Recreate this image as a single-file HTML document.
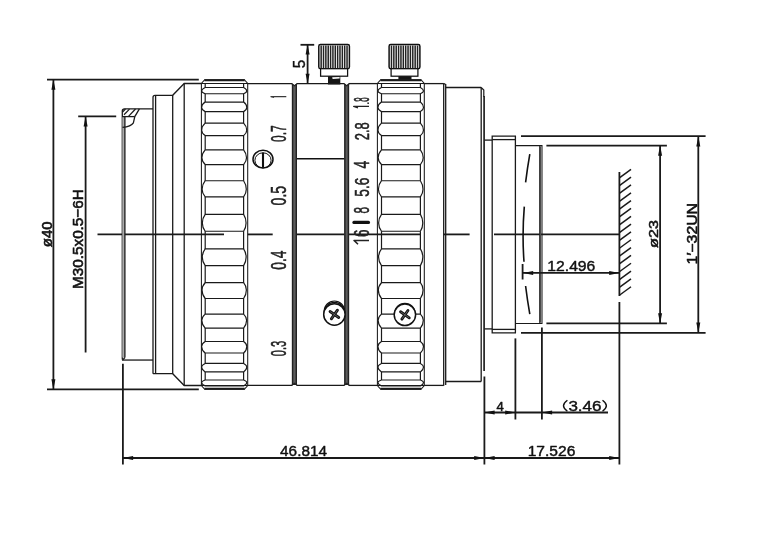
<!DOCTYPE html>
<html><head><meta charset="utf-8"><title>Lens drawing</title>
<style>
html,body{margin:0;padding:0;background:#fff;}
svg{display:block;font-family:"Liberation Sans",sans-serif;filter:grayscale(1);}
</style></head>
<body>
<svg width="760" height="547" viewBox="0 0 760 547">
<rect x="0" y="0" width="760" height="547" fill="#fff"/>
<line x1="97.50" y1="234.40" x2="224.00" y2="234.40" stroke="#1a1a1a" stroke-width="1.8" stroke-linecap="butt"/>
<line x1="247.70" y1="234.40" x2="272.70" y2="234.40" stroke="#1a1a1a" stroke-width="1.8" stroke-linecap="butt"/>
<line x1="296.00" y1="234.40" x2="420.40" y2="234.40" stroke="#1a1a1a" stroke-width="1.8" stroke-linecap="butt"/>
<line x1="443.60" y1="234.40" x2="469.60" y2="234.40" stroke="#1a1a1a" stroke-width="1.8" stroke-linecap="butt"/>
<line x1="494.00" y1="234.40" x2="619.40" y2="234.40" stroke="#1a1a1a" stroke-width="1.8" stroke-linecap="butt"/>
<line x1="47.00" y1="79.60" x2="198.80" y2="79.60" stroke="#1a1a1a" stroke-width="1.8" stroke-linecap="butt"/>
<line x1="47.00" y1="389.40" x2="198.80" y2="389.40" stroke="#1a1a1a" stroke-width="1.8" stroke-linecap="butt"/>
<line x1="53.40" y1="79.60" x2="53.40" y2="389.40" stroke="#1a1a1a" stroke-width="1.8" stroke-linecap="butt"/>
<polygon points="53.40,79.60 51.40,89.80 55.40,89.80" fill="#111"/>
<polygon points="53.40,389.40 51.40,379.20 55.40,379.20" fill="#111"/>
<line x1="78.20" y1="116.40" x2="116.20" y2="116.40" stroke="#1a1a1a" stroke-width="1.8" stroke-linecap="butt"/>
<line x1="85.60" y1="116.40" x2="85.60" y2="352.50" stroke="#1a1a1a" stroke-width="1.8" stroke-linecap="butt"/>
<polygon points="85.60,116.40 83.60,126.60 87.60,126.60" fill="#111"/>
<path d="M122.3,359.45 L122.3,111.1 Q122.3,108.95 124.5,108.95 L153,108.95" stroke="#1a1a1a" stroke-width="1.3" fill="none" stroke-linejoin="miter"/>
<rect x="122.3" y="117" width="2.6" height="240.55" fill="#aaa"/>
<line x1="124.90" y1="117.00" x2="124.90" y2="357.55" stroke="#1a1a1a" stroke-width="1.3" stroke-linecap="butt"/>
<path d="M124.9,357.55 L122.3,360.35" stroke="#1a1a1a" stroke-width="1.3" fill="none" stroke-linejoin="miter"/>
<line x1="122.30" y1="360.05" x2="153.00" y2="360.05" stroke="#1a1a1a" stroke-width="1.3" stroke-linecap="butt"/>
<line x1="122.30" y1="116.60" x2="134.80" y2="116.60" stroke="#1a1a1a" stroke-width="1.3" stroke-linecap="butt"/>
<path d="M139.4,108.95 L134.8,116.6 L133.4,122.8 Q131,126.6 122.5,127.3" stroke="#1a1a1a" stroke-width="1.3" fill="none" stroke-linejoin="miter"/>
<line x1="124.00" y1="114.70" x2="129.50" y2="109.10" stroke="#1a1a1a" stroke-width="1.25" stroke-linecap="butt"/>
<line x1="128.50" y1="116.40" x2="135.50" y2="109.00" stroke="#1a1a1a" stroke-width="1.25" stroke-linecap="butt"/>
<line x1="122.60" y1="112.00" x2="125.50" y2="109.00" stroke="#1a1a1a" stroke-width="1.1" stroke-linecap="butt"/>
<path d="M153,373.70 L153,97.4 Q153,95.3 155,95.3 L172.7,95.3 L184.2,83.5 L201.4,83.5" stroke="#1a1a1a" stroke-width="1.3" fill="none" stroke-linejoin="miter"/>
<path d="M153,373.70 L172.7,373.70 L184.2,385.50 L201.4,385.50" stroke="#1a1a1a" stroke-width="1.3" fill="none" stroke-linejoin="miter"/>
<line x1="155.60" y1="95.50" x2="155.60" y2="373.70" stroke="#1a1a1a" stroke-width="1.3" stroke-linecap="butt"/>
<line x1="172.70" y1="95.30" x2="172.70" y2="373.70" stroke="#1a1a1a" stroke-width="1.3" stroke-linecap="butt"/>
<line x1="184.20" y1="83.50" x2="184.20" y2="385.50" stroke="#1a1a1a" stroke-width="1.3" stroke-linecap="butt"/>
<path d="M201.4,385.50 L201.4,83.5 L204.70,79.7 L244.40,79.7 L247.7,83.5 L247.7,385.50 L244.40,389.30 L204.70,389.30 Z" stroke="#1a1a1a" stroke-width="1.05" fill="none" stroke-linejoin="miter"/>
<line x1="204.40" y1="80.35" x2="244.70" y2="80.35" stroke="#1a1a1a" stroke-width="2.0" stroke-linecap="butt"/>
<line x1="204.40" y1="388.65" x2="244.70" y2="388.65" stroke="#1a1a1a" stroke-width="2.0" stroke-linecap="butt"/>
<line x1="201.40" y1="83.50" x2="247.70" y2="83.50" stroke="#1a1a1a" stroke-width="1.2" stroke-linecap="butt"/>
<line x1="201.40" y1="385.50" x2="247.70" y2="385.50" stroke="#1a1a1a" stroke-width="1.2" stroke-linecap="butt"/>
<line x1="205.20" y1="83.50" x2="205.20" y2="87.52" stroke="#1a1a1a" stroke-width="1.2" stroke-linecap="butt"/>
<line x1="243.60" y1="83.50" x2="243.60" y2="87.52" stroke="#1a1a1a" stroke-width="1.2" stroke-linecap="butt"/>
<path d="M205.2,87.52 L243.6,87.52 Q246.80,89.12 246.80,91.07 Q246.80,92.54 243.6,93.75 L205.2,93.75 Q201.60,92.54 201.60,91.07 Q201.60,89.12 205.2,87.52 Z" stroke="#1a1a1a" stroke-width="1.2" fill="none" stroke-linejoin="miter"/>
<line x1="205.20" y1="93.75" x2="205.20" y2="102.03" stroke="#1a1a1a" stroke-width="1.2" stroke-linecap="butt"/>
<line x1="243.60" y1="93.75" x2="243.60" y2="102.03" stroke="#1a1a1a" stroke-width="1.2" stroke-linecap="butt"/>
<path d="M205.2,102.03 L243.6,102.03 Q246.80,104.48 246.80,107.49 Q246.80,109.75 243.6,111.61 L205.2,111.61 Q201.60,109.75 201.60,107.49 Q201.60,104.48 205.2,102.03 Z" stroke="#1a1a1a" stroke-width="1.2" fill="none" stroke-linejoin="miter"/>
<line x1="205.20" y1="111.61" x2="205.20" y2="123.15" stroke="#1a1a1a" stroke-width="1.2" stroke-linecap="butt"/>
<line x1="243.60" y1="111.61" x2="243.60" y2="123.15" stroke="#1a1a1a" stroke-width="1.2" stroke-linecap="butt"/>
<path d="M205.2,123.15 L243.6,123.15 Q246.76,126.33 246.76,130.21 Q246.76,133.18 243.6,135.61 L205.2,135.61 Q201.64,133.18 201.64,130.21 Q201.64,126.33 205.2,123.15 Z" stroke="#1a1a1a" stroke-width="1.2" fill="none" stroke-linejoin="miter"/>
<line x1="205.20" y1="135.61" x2="205.20" y2="149.84" stroke="#1a1a1a" stroke-width="1.2" stroke-linecap="butt"/>
<line x1="243.60" y1="135.61" x2="243.60" y2="149.84" stroke="#1a1a1a" stroke-width="1.2" stroke-linecap="butt"/>
<path d="M205.2,149.84 L243.6,149.84 Q246.53,153.45 246.53,157.87 Q246.53,161.54 243.6,164.55 L205.2,164.55 Q201.87,161.54 201.87,157.87 Q201.87,153.45 205.2,149.84 Z" stroke="#1a1a1a" stroke-width="1.2" fill="none" stroke-linejoin="miter"/>
<line x1="205.20" y1="164.55" x2="205.20" y2="180.74" stroke="#1a1a1a" stroke-width="1.2" stroke-linecap="butt"/>
<line x1="243.60" y1="164.55" x2="243.60" y2="180.74" stroke="#1a1a1a" stroke-width="1.2" stroke-linecap="butt"/>
<path d="M205.2,180.74 L243.6,180.74 Q246.30,184.59 246.30,189.29 Q246.30,193.51 243.6,196.97 L205.2,196.97 Q202.10,193.51 202.10,189.29 Q202.10,184.59 205.2,180.74 Z" stroke="#1a1a1a" stroke-width="1.2" fill="none" stroke-linejoin="miter"/>
<line x1="205.20" y1="196.97" x2="205.20" y2="214.32" stroke="#1a1a1a" stroke-width="1.2" stroke-linecap="butt"/>
<line x1="243.60" y1="196.97" x2="243.60" y2="214.32" stroke="#1a1a1a" stroke-width="1.2" stroke-linecap="butt"/>
<path d="M205.2,214.32 L243.6,214.32 Q246.07,218.18 246.07,222.90 Q246.07,227.49 243.6,231.25 L205.2,231.25 Q202.33,227.49 202.33,222.90 Q202.33,218.18 205.2,214.32 Z" stroke="#1a1a1a" stroke-width="1.2" fill="none" stroke-linejoin="miter"/>
<line x1="205.20" y1="231.25" x2="205.20" y2="248.89" stroke="#1a1a1a" stroke-width="1.2" stroke-linecap="butt"/>
<line x1="243.60" y1="231.25" x2="243.60" y2="248.89" stroke="#1a1a1a" stroke-width="1.2" stroke-linecap="butt"/>
<path d="M205.2,248.89 L243.6,248.89 Q246.15,252.57 246.15,257.06 Q246.15,261.79 243.6,265.67 L205.2,265.67 Q202.25,261.79 202.25,257.06 Q202.25,252.57 205.2,248.89 Z" stroke="#1a1a1a" stroke-width="1.2" fill="none" stroke-linejoin="miter"/>
<line x1="205.20" y1="265.67" x2="205.20" y2="282.72" stroke="#1a1a1a" stroke-width="1.2" stroke-linecap="butt"/>
<line x1="243.60" y1="265.67" x2="243.60" y2="282.72" stroke="#1a1a1a" stroke-width="1.2" stroke-linecap="butt"/>
<path d="M205.2,282.72 L243.6,282.72 Q246.38,286.03 246.38,290.08 Q246.38,294.72 243.6,298.51 L205.2,298.51 Q202.02,294.72 202.02,290.08 Q202.02,286.03 205.2,282.72 Z" stroke="#1a1a1a" stroke-width="1.2" fill="none" stroke-linejoin="miter"/>
<line x1="205.20" y1="298.51" x2="205.20" y2="314.10" stroke="#1a1a1a" stroke-width="1.2" stroke-linecap="butt"/>
<line x1="243.60" y1="298.51" x2="243.60" y2="314.10" stroke="#1a1a1a" stroke-width="1.2" stroke-linecap="butt"/>
<path d="M205.2,314.10 L243.6,314.10 Q246.61,316.92 246.61,320.36 Q246.61,324.62 243.6,328.11 L205.2,328.11 Q201.79,324.62 201.79,320.36 Q201.79,316.92 205.2,314.10 Z" stroke="#1a1a1a" stroke-width="1.2" fill="none" stroke-linejoin="miter"/>
<line x1="205.20" y1="328.11" x2="205.20" y2="341.48" stroke="#1a1a1a" stroke-width="1.2" stroke-linecap="butt"/>
<line x1="243.60" y1="328.11" x2="243.60" y2="341.48" stroke="#1a1a1a" stroke-width="1.2" stroke-linecap="butt"/>
<path d="M205.2,341.48 L243.6,341.48 Q246.80,343.71 246.80,346.43 Q246.80,350.04 243.6,353.00 L205.2,353.00 Q201.60,350.04 201.60,346.43 Q201.60,343.71 205.2,341.48 Z" stroke="#1a1a1a" stroke-width="1.2" fill="none" stroke-linejoin="miter"/>
<line x1="205.20" y1="353.00" x2="205.20" y2="363.46" stroke="#1a1a1a" stroke-width="1.2" stroke-linecap="butt"/>
<line x1="243.60" y1="353.00" x2="243.60" y2="363.46" stroke="#1a1a1a" stroke-width="1.2" stroke-linecap="butt"/>
<path d="M205.2,363.46 L243.6,363.46 Q246.80,365.10 246.80,367.10 Q246.80,369.75 243.6,371.92 L205.2,371.92 Q201.60,369.75 201.60,367.10 Q201.60,365.10 205.2,363.46 Z" stroke="#1a1a1a" stroke-width="1.2" fill="none" stroke-linejoin="miter"/>
<line x1="205.20" y1="371.92" x2="205.20" y2="380.00" stroke="#1a1a1a" stroke-width="1.2" stroke-linecap="butt"/>
<line x1="243.60" y1="371.92" x2="243.60" y2="380.00" stroke="#1a1a1a" stroke-width="1.2" stroke-linecap="butt"/>
<path d="M205.2,380.00 L243.6,380.00 Q246.80,381.14 246.80,382.54 Q246.80,384.39 243.6,385.90 L205.2,385.90 Q201.60,384.39 201.60,382.54 Q201.60,381.14 205.2,380.00 Z" stroke="#1a1a1a" stroke-width="1.2" fill="none" stroke-linejoin="miter"/>
<line x1="205.20" y1="385.90" x2="205.20" y2="385.50" stroke="#1a1a1a" stroke-width="1.2" stroke-linecap="butt"/>
<line x1="243.60" y1="385.90" x2="243.60" y2="385.50" stroke="#1a1a1a" stroke-width="1.2" stroke-linecap="butt"/>
<path d="M377.4,385.50 L377.4,83.5 L380.70,79.7 L421.00,79.7 L424.3,83.5 L424.3,385.50 L421.00,389.30 L380.70,389.30 Z" stroke="#1a1a1a" stroke-width="1.05" fill="none" stroke-linejoin="miter"/>
<line x1="380.40" y1="80.35" x2="421.30" y2="80.35" stroke="#1a1a1a" stroke-width="2.0" stroke-linecap="butt"/>
<line x1="380.40" y1="388.65" x2="421.30" y2="388.65" stroke="#1a1a1a" stroke-width="2.0" stroke-linecap="butt"/>
<line x1="377.40" y1="83.50" x2="424.30" y2="83.50" stroke="#1a1a1a" stroke-width="1.2" stroke-linecap="butt"/>
<line x1="377.40" y1="385.50" x2="424.30" y2="385.50" stroke="#1a1a1a" stroke-width="1.2" stroke-linecap="butt"/>
<line x1="381.50" y1="83.50" x2="381.50" y2="87.52" stroke="#1a1a1a" stroke-width="1.2" stroke-linecap="butt"/>
<line x1="420.40" y1="83.50" x2="420.40" y2="87.52" stroke="#1a1a1a" stroke-width="1.2" stroke-linecap="butt"/>
<path d="M381.5,87.52 L420.4,87.52 Q423.50,89.12 423.50,91.07 Q423.50,92.54 420.4,93.75 L381.5,93.75 Q377.90,92.54 377.90,91.07 Q377.90,89.12 381.5,87.52 Z" stroke="#1a1a1a" stroke-width="1.2" fill="none" stroke-linejoin="miter"/>
<line x1="381.50" y1="93.75" x2="381.50" y2="102.03" stroke="#1a1a1a" stroke-width="1.2" stroke-linecap="butt"/>
<line x1="420.40" y1="93.75" x2="420.40" y2="102.03" stroke="#1a1a1a" stroke-width="1.2" stroke-linecap="butt"/>
<path d="M381.5,102.03 L420.4,102.03 Q423.50,104.48 423.50,107.49 Q423.50,109.75 420.4,111.61 L381.5,111.61 Q377.90,109.75 377.90,107.49 Q377.90,104.48 381.5,102.03 Z" stroke="#1a1a1a" stroke-width="1.2" fill="none" stroke-linejoin="miter"/>
<line x1="381.50" y1="111.61" x2="381.50" y2="123.15" stroke="#1a1a1a" stroke-width="1.2" stroke-linecap="butt"/>
<line x1="420.40" y1="111.61" x2="420.40" y2="123.15" stroke="#1a1a1a" stroke-width="1.2" stroke-linecap="butt"/>
<path d="M381.5,123.15 L420.4,123.15 Q423.46,126.33 423.46,130.21 Q423.46,133.18 420.4,135.61 L381.5,135.61 Q377.94,133.18 377.94,130.21 Q377.94,126.33 381.5,123.15 Z" stroke="#1a1a1a" stroke-width="1.2" fill="none" stroke-linejoin="miter"/>
<line x1="381.50" y1="135.61" x2="381.50" y2="149.84" stroke="#1a1a1a" stroke-width="1.2" stroke-linecap="butt"/>
<line x1="420.40" y1="135.61" x2="420.40" y2="149.84" stroke="#1a1a1a" stroke-width="1.2" stroke-linecap="butt"/>
<path d="M381.5,149.84 L420.4,149.84 Q423.23,153.45 423.23,157.87 Q423.23,161.54 420.4,164.55 L381.5,164.55 Q378.17,161.54 378.17,157.87 Q378.17,153.45 381.5,149.84 Z" stroke="#1a1a1a" stroke-width="1.2" fill="none" stroke-linejoin="miter"/>
<line x1="381.50" y1="164.55" x2="381.50" y2="180.74" stroke="#1a1a1a" stroke-width="1.2" stroke-linecap="butt"/>
<line x1="420.40" y1="164.55" x2="420.40" y2="180.74" stroke="#1a1a1a" stroke-width="1.2" stroke-linecap="butt"/>
<path d="M381.5,180.74 L420.4,180.74 Q423.00,184.59 423.00,189.29 Q423.00,193.51 420.4,196.97 L381.5,196.97 Q378.40,193.51 378.40,189.29 Q378.40,184.59 381.5,180.74 Z" stroke="#1a1a1a" stroke-width="1.2" fill="none" stroke-linejoin="miter"/>
<line x1="381.50" y1="196.97" x2="381.50" y2="214.32" stroke="#1a1a1a" stroke-width="1.2" stroke-linecap="butt"/>
<line x1="420.40" y1="196.97" x2="420.40" y2="214.32" stroke="#1a1a1a" stroke-width="1.2" stroke-linecap="butt"/>
<path d="M381.5,214.32 L420.4,214.32 Q422.77,218.18 422.77,222.90 Q422.77,227.49 420.4,231.25 L381.5,231.25 Q378.63,227.49 378.63,222.90 Q378.63,218.18 381.5,214.32 Z" stroke="#1a1a1a" stroke-width="1.2" fill="none" stroke-linejoin="miter"/>
<line x1="381.50" y1="231.25" x2="381.50" y2="248.89" stroke="#1a1a1a" stroke-width="1.2" stroke-linecap="butt"/>
<line x1="420.40" y1="231.25" x2="420.40" y2="248.89" stroke="#1a1a1a" stroke-width="1.2" stroke-linecap="butt"/>
<path d="M381.5,248.89 L420.4,248.89 Q422.85,252.57 422.85,257.06 Q422.85,261.79 420.4,265.67 L381.5,265.67 Q378.55,261.79 378.55,257.06 Q378.55,252.57 381.5,248.89 Z" stroke="#1a1a1a" stroke-width="1.2" fill="none" stroke-linejoin="miter"/>
<line x1="381.50" y1="265.67" x2="381.50" y2="282.72" stroke="#1a1a1a" stroke-width="1.2" stroke-linecap="butt"/>
<line x1="420.40" y1="265.67" x2="420.40" y2="282.72" stroke="#1a1a1a" stroke-width="1.2" stroke-linecap="butt"/>
<path d="M381.5,282.72 L420.4,282.72 Q423.08,286.03 423.08,290.08 Q423.08,294.72 420.4,298.51 L381.5,298.51 Q378.32,294.72 378.32,290.08 Q378.32,286.03 381.5,282.72 Z" stroke="#1a1a1a" stroke-width="1.2" fill="none" stroke-linejoin="miter"/>
<line x1="381.50" y1="298.51" x2="381.50" y2="314.10" stroke="#1a1a1a" stroke-width="1.2" stroke-linecap="butt"/>
<line x1="420.40" y1="298.51" x2="420.40" y2="314.10" stroke="#1a1a1a" stroke-width="1.2" stroke-linecap="butt"/>
<path d="M381.5,314.10 L420.4,314.10 Q423.31,316.92 423.31,320.36 Q423.31,324.62 420.4,328.11 L381.5,328.11 Q378.09,324.62 378.09,320.36 Q378.09,316.92 381.5,314.10 Z" stroke="#1a1a1a" stroke-width="1.2" fill="none" stroke-linejoin="miter"/>
<line x1="381.50" y1="328.11" x2="381.50" y2="341.48" stroke="#1a1a1a" stroke-width="1.2" stroke-linecap="butt"/>
<line x1="420.40" y1="328.11" x2="420.40" y2="341.48" stroke="#1a1a1a" stroke-width="1.2" stroke-linecap="butt"/>
<path d="M381.5,341.48 L420.4,341.48 Q423.50,343.71 423.50,346.43 Q423.50,350.04 420.4,353.00 L381.5,353.00 Q377.90,350.04 377.90,346.43 Q377.90,343.71 381.5,341.48 Z" stroke="#1a1a1a" stroke-width="1.2" fill="none" stroke-linejoin="miter"/>
<line x1="381.50" y1="353.00" x2="381.50" y2="363.46" stroke="#1a1a1a" stroke-width="1.2" stroke-linecap="butt"/>
<line x1="420.40" y1="353.00" x2="420.40" y2="363.46" stroke="#1a1a1a" stroke-width="1.2" stroke-linecap="butt"/>
<path d="M381.5,363.46 L420.4,363.46 Q423.50,365.10 423.50,367.10 Q423.50,369.75 420.4,371.92 L381.5,371.92 Q377.90,369.75 377.90,367.10 Q377.90,365.10 381.5,363.46 Z" stroke="#1a1a1a" stroke-width="1.2" fill="none" stroke-linejoin="miter"/>
<line x1="381.50" y1="371.92" x2="381.50" y2="380.00" stroke="#1a1a1a" stroke-width="1.2" stroke-linecap="butt"/>
<line x1="420.40" y1="371.92" x2="420.40" y2="380.00" stroke="#1a1a1a" stroke-width="1.2" stroke-linecap="butt"/>
<path d="M381.5,380.00 L420.4,380.00 Q423.50,381.14 423.50,382.54 Q423.50,384.39 420.4,385.90 L381.5,385.90 Q377.90,384.39 377.90,382.54 Q377.90,381.14 381.5,380.00 Z" stroke="#1a1a1a" stroke-width="1.2" fill="none" stroke-linejoin="miter"/>
<line x1="381.50" y1="385.90" x2="381.50" y2="385.50" stroke="#1a1a1a" stroke-width="1.2" stroke-linecap="butt"/>
<line x1="420.40" y1="385.90" x2="420.40" y2="385.50" stroke="#1a1a1a" stroke-width="1.2" stroke-linecap="butt"/>
<line x1="247.70" y1="83.60" x2="292.00" y2="83.60" stroke="#1a1a1a" stroke-width="1.3" stroke-linecap="butt"/>
<line x1="247.70" y1="385.40" x2="292.00" y2="385.40" stroke="#1a1a1a" stroke-width="1.3" stroke-linecap="butt"/>
<line x1="296.90" y1="83.60" x2="344.30" y2="83.60" stroke="#1a1a1a" stroke-width="1.3" stroke-linecap="butt"/>
<line x1="296.90" y1="385.40" x2="344.30" y2="385.40" stroke="#1a1a1a" stroke-width="1.3" stroke-linecap="butt"/>
<line x1="349.00" y1="83.60" x2="377.40" y2="83.60" stroke="#1a1a1a" stroke-width="1.3" stroke-linecap="butt"/>
<line x1="349.00" y1="385.40" x2="377.40" y2="385.40" stroke="#1a1a1a" stroke-width="1.3" stroke-linecap="butt"/>
<line x1="424.30" y1="83.60" x2="443.70" y2="83.60" stroke="#1a1a1a" stroke-width="1.3" stroke-linecap="butt"/>
<line x1="424.30" y1="385.40" x2="443.70" y2="385.40" stroke="#1a1a1a" stroke-width="1.3" stroke-linecap="butt"/>
<rect x="291.9" y="83.6" width="5.10" height="301.80" fill="#5c5c5c"/>
<line x1="292.60" y1="83.60" x2="292.60" y2="385.40" stroke="#222" stroke-width="1.4" stroke-linecap="butt"/>
<line x1="296.30" y1="83.60" x2="296.30" y2="385.40" stroke="#222" stroke-width="1.4" stroke-linecap="butt"/>
<polygon points="292.2,82.9 296.7,82.9 294.45,85.4" fill="#fff"/>
<path d="M291.7,83.6 L294.45,85.8 L297.2,83.6" stroke="#222" stroke-width="1.2" fill="none" stroke-linejoin="miter"/>
<polygon points="292.2,386.10 296.7,386.10 294.45,383.60" fill="#fff"/>
<path d="M291.7,385.40 L294.45,383.20 L297.2,385.40" stroke="#222" stroke-width="1.2" fill="none" stroke-linejoin="miter"/>
<rect x="344.2" y="83.6" width="4.90" height="301.80" fill="#5c5c5c"/>
<line x1="344.90" y1="83.60" x2="344.90" y2="385.40" stroke="#222" stroke-width="1.4" stroke-linecap="butt"/>
<line x1="348.40" y1="83.60" x2="348.40" y2="385.40" stroke="#222" stroke-width="1.4" stroke-linecap="butt"/>
<polygon points="344.5,82.9 348.8,82.9 346.65,85.4" fill="#fff"/>
<path d="M344.0,83.6 L346.65,85.8 L349.3,83.6" stroke="#222" stroke-width="1.2" fill="none" stroke-linejoin="miter"/>
<polygon points="344.5,386.10 348.8,386.10 346.65,383.60" fill="#fff"/>
<path d="M344.0,385.40 L346.65,383.20 L349.3,385.40" stroke="#222" stroke-width="1.2" fill="none" stroke-linejoin="miter"/>
<line x1="297.00" y1="158.70" x2="344.20" y2="158.70" stroke="#111" stroke-width="1.6" stroke-linecap="butt"/>
<line x1="443.70" y1="83.30" x2="443.70" y2="385.70" stroke="#1a1a1a" stroke-width="1.3" stroke-linecap="butt"/>
<line x1="445.70" y1="84.00" x2="445.70" y2="385.00" stroke="#1a1a1a" stroke-width="1.3" stroke-linecap="butt"/>
<path d="M443.7,83.5 L445.7,84.5" stroke="#1a1a1a" stroke-width="1.3" fill="none" stroke-linejoin="miter"/>
<line x1="445.70" y1="87.50" x2="481.20" y2="87.50" stroke="#1a1a1a" stroke-width="1.3" stroke-linecap="butt"/>
<line x1="445.70" y1="381.50" x2="481.20" y2="381.50" stroke="#1a1a1a" stroke-width="1.3" stroke-linecap="butt"/>
<line x1="481.20" y1="87.50" x2="481.20" y2="381.50" stroke="#1a1a1a" stroke-width="1.3" stroke-linecap="butt"/>
<path d="M481.2,87.5 L483.8,90 L483.8,97" stroke="#1a1a1a" stroke-width="1.2" fill="none" stroke-linejoin="miter"/>
<line x1="484.10" y1="96.00" x2="484.10" y2="371.00" stroke="#222" stroke-width="1.7" stroke-linecap="butt"/>
<line x1="484.40" y1="140.10" x2="492.20" y2="140.10" stroke="#1a1a1a" stroke-width="1.3" stroke-linecap="butt"/>
<line x1="484.40" y1="328.90" x2="492.20" y2="328.90" stroke="#1a1a1a" stroke-width="1.3" stroke-linecap="butt"/>
<path d="M492.2,136.2 L515.4,136.2 L515.4,332.80 L492.2,332.80 Z" stroke="#1a1a1a" stroke-width="1.3" fill="none" stroke-linejoin="miter"/>
<line x1="492.20" y1="139.60" x2="515.40" y2="139.60" stroke="#1a1a1a" stroke-width="1.3" stroke-linecap="butt"/>
<line x1="492.20" y1="329.40" x2="515.40" y2="329.40" stroke="#1a1a1a" stroke-width="1.3" stroke-linecap="butt"/>
<path d="M515.4,145.6 L542.0,145.6 L542.0,323.40 L515.4,323.40" stroke="#1a1a1a" stroke-width="1.05" fill="none" stroke-linejoin="miter"/>
<line x1="540.30" y1="146.30" x2="540.30" y2="322.70" stroke="#555" stroke-width="1.6" stroke-linecap="butt"/>
<line x1="539.70" y1="146.00" x2="539.70" y2="323.00" stroke="#1a1a1a" stroke-width="0.9" stroke-linecap="butt"/>
<path d="M529.8,154.2 Q527.4,168 525.6,182.4" stroke="#111" stroke-width="1.6" fill="none" stroke-linejoin="miter"/>
<path d="M524.3,206.6 Q522.0,234.5 524.0,261.8" stroke="#111" stroke-width="1.6" fill="none" stroke-linejoin="miter"/>
<path d="M525.6,286 Q527.4,300.4 529.8,314.2" stroke="#111" stroke-width="1.6" fill="none" stroke-linejoin="miter"/>
<rect x="318.8" y="44.6" width="30.60" height="24.1" rx="1.6" fill="#fff" stroke="#111" stroke-width="1.5"/>
<line x1="321.15" y1="45.50" x2="321.15" y2="68.00" stroke="#222" stroke-width="1.5" stroke-linecap="butt"/>
<line x1="323.51" y1="45.50" x2="323.51" y2="68.00" stroke="#222" stroke-width="1.5" stroke-linecap="butt"/>
<line x1="325.86" y1="45.50" x2="325.86" y2="68.00" stroke="#222" stroke-width="1.5" stroke-linecap="butt"/>
<line x1="328.22" y1="45.50" x2="328.22" y2="68.00" stroke="#222" stroke-width="1.5" stroke-linecap="butt"/>
<line x1="330.57" y1="45.50" x2="330.57" y2="68.00" stroke="#222" stroke-width="1.5" stroke-linecap="butt"/>
<line x1="332.92" y1="45.50" x2="332.92" y2="68.00" stroke="#222" stroke-width="1.5" stroke-linecap="butt"/>
<line x1="335.28" y1="45.50" x2="335.28" y2="68.00" stroke="#222" stroke-width="1.5" stroke-linecap="butt"/>
<line x1="337.63" y1="45.50" x2="337.63" y2="68.00" stroke="#222" stroke-width="1.5" stroke-linecap="butt"/>
<line x1="339.98" y1="45.50" x2="339.98" y2="68.00" stroke="#222" stroke-width="1.5" stroke-linecap="butt"/>
<line x1="342.34" y1="45.50" x2="342.34" y2="68.00" stroke="#222" stroke-width="1.5" stroke-linecap="butt"/>
<line x1="344.69" y1="45.50" x2="344.69" y2="68.00" stroke="#222" stroke-width="1.5" stroke-linecap="butt"/>
<line x1="347.05" y1="45.50" x2="347.05" y2="68.00" stroke="#222" stroke-width="1.5" stroke-linecap="butt"/>
<rect x="320.6" y="68.7" width="27.00" height="7.5" fill="#fff" stroke="#111" stroke-width="1.25"/>
<rect x="328.0" y="76.2" width="12.30" height="7.80" fill="#151515"/>
<rect x="389.1" y="44.6" width="30.80" height="24.1" rx="1.6" fill="#fff" stroke="#111" stroke-width="1.5"/>
<line x1="391.47" y1="45.50" x2="391.47" y2="68.00" stroke="#222" stroke-width="1.5" stroke-linecap="butt"/>
<line x1="393.84" y1="45.50" x2="393.84" y2="68.00" stroke="#222" stroke-width="1.5" stroke-linecap="butt"/>
<line x1="396.21" y1="45.50" x2="396.21" y2="68.00" stroke="#222" stroke-width="1.5" stroke-linecap="butt"/>
<line x1="398.58" y1="45.50" x2="398.58" y2="68.00" stroke="#222" stroke-width="1.5" stroke-linecap="butt"/>
<line x1="400.95" y1="45.50" x2="400.95" y2="68.00" stroke="#222" stroke-width="1.5" stroke-linecap="butt"/>
<line x1="403.32" y1="45.50" x2="403.32" y2="68.00" stroke="#222" stroke-width="1.5" stroke-linecap="butt"/>
<line x1="405.68" y1="45.50" x2="405.68" y2="68.00" stroke="#222" stroke-width="1.5" stroke-linecap="butt"/>
<line x1="408.05" y1="45.50" x2="408.05" y2="68.00" stroke="#222" stroke-width="1.5" stroke-linecap="butt"/>
<line x1="410.42" y1="45.50" x2="410.42" y2="68.00" stroke="#222" stroke-width="1.5" stroke-linecap="butt"/>
<line x1="412.79" y1="45.50" x2="412.79" y2="68.00" stroke="#222" stroke-width="1.5" stroke-linecap="butt"/>
<line x1="415.16" y1="45.50" x2="415.16" y2="68.00" stroke="#222" stroke-width="1.5" stroke-linecap="butt"/>
<line x1="417.53" y1="45.50" x2="417.53" y2="68.00" stroke="#222" stroke-width="1.5" stroke-linecap="butt"/>
<rect x="391.1" y="68.7" width="26.80" height="7.5" fill="#fff" stroke="#111" stroke-width="1.25"/>
<rect x="398.4" y="76.2" width="13.10" height="3.40" fill="#151515"/>
<polygon points="332.2,77.3 339.6,76.9 339.6,78.5 332.6,78.9" fill="#fff"/>
<rect x="327.9" y="83.0" width="12.4" height="1.5" fill="#1a1a1a"/>
<line x1="300.50" y1="44.80" x2="314.20" y2="44.80" stroke="#1a1a1a" stroke-width="1.8" stroke-linecap="butt"/>
<line x1="307.60" y1="44.80" x2="307.60" y2="83.60" stroke="#1a1a1a" stroke-width="1.8" stroke-linecap="butt"/>
<polygon points="307.60,44.80 305.60,54.60 309.60,54.60" fill="#111"/>
<polygon points="307.60,83.60 305.60,73.80 309.60,73.80" fill="#111"/>
<text transform="translate(305.043,68.200) rotate(-90) scale(0.07568,0.07857)" font-size="200" font-weight="normal" fill="#111"  stroke="#111" stroke-width="0.4" vector-effect="non-scaling-stroke" stroke-linejoin="round">5</text>
<ellipse cx="263.0" cy="159.2" rx="10.0" ry="8.9" fill="none" stroke="#111" stroke-width="1.5"/>
<ellipse cx="263.0" cy="160.3" rx="8.1" ry="7.5" fill="none" stroke="#111" stroke-width="1.0"/>
<line x1="263.00" y1="152.60" x2="263.00" y2="167.80" stroke="#111" stroke-width="2.1" stroke-linecap="butt"/>
<circle cx="334.4" cy="311.2" r="10.2" fill="#fff" stroke="#111" stroke-width="1.2"/>
<circle cx="334.4" cy="312.6" r="10.2" fill="#fff" stroke="#111" stroke-width="1.2"/>
<circle cx="334.4" cy="314.5" r="10.7" fill="#fff" stroke="#111" stroke-width="1.5"/>
<line x1="330.06" y1="311.46" x2="338.74" y2="317.54" stroke="#111" stroke-width="2.9" stroke-linecap="round"/>
<line x1="337.44" y1="310.16" x2="331.36" y2="318.84" stroke="#111" stroke-width="2.9" stroke-linecap="round"/>
<line x1="330.47" y1="311.75" x2="338.33" y2="317.25" stroke="#777" stroke-width="0.7" stroke-linecap="round"/>
<line x1="337.15" y1="310.57" x2="331.65" y2="318.43" stroke="#777" stroke-width="0.7" stroke-linecap="round"/>
<circle cx="404.9" cy="313.5" r="10.2" fill="#fff" stroke="#111" stroke-width="1.2"/>
<circle cx="404.9" cy="314.8" r="10.7" fill="#fff" stroke="#111" stroke-width="1.5"/>
<line x1="400.56" y1="311.76" x2="409.24" y2="317.84" stroke="#111" stroke-width="2.9" stroke-linecap="round"/>
<line x1="407.94" y1="310.46" x2="401.86" y2="319.14" stroke="#111" stroke-width="2.9" stroke-linecap="round"/>
<line x1="400.97" y1="312.05" x2="408.83" y2="317.55" stroke="#777" stroke-width="0.7" stroke-linecap="round"/>
<line x1="407.65" y1="310.87" x2="402.15" y2="318.73" stroke="#777" stroke-width="0.7" stroke-linecap="round"/>
<path d="M286.3,96.6 L270.9,96.6 L274.09999999999997,97.5" stroke="#3a3a3a" stroke-width="1.15" fill="none" stroke-linejoin="round"/>
<text transform="translate(286.075,142.000) rotate(-90) scale(0.05971,0.11268)" font-size="200" font-weight="normal" fill="#222"  stroke="#222" stroke-width="0.45" vector-effect="non-scaling-stroke" stroke-linejoin="round">0.7</text>
<text transform="translate(286.075,205.400) rotate(-90) scale(0.07050,0.11268)" font-size="200" font-weight="normal" fill="#222"  stroke="#222" stroke-width="0.45" vector-effect="non-scaling-stroke" stroke-linejoin="round">0.5</text>
<text transform="translate(285.775,269.800) rotate(-90) scale(0.06906,0.11268)" font-size="200" font-weight="normal" fill="#222"  stroke="#222" stroke-width="0.45" vector-effect="non-scaling-stroke" stroke-linejoin="round">0.4</text>
<text transform="translate(286.272,356.200) rotate(-90) scale(0.05540,0.11408)" font-size="200" font-weight="normal" fill="#222"  stroke="#222" stroke-width="0.45" vector-effect="non-scaling-stroke" stroke-linejoin="round">0.3</text>
<text transform="translate(368.782,101.800) rotate(-90) scale(0.03964,0.10915)" font-size="200" font-weight="normal" fill="#222"  stroke="#222" stroke-width="0.45" vector-effect="non-scaling-stroke" stroke-linejoin="round">8</text>
<rect x="367.3" y="102.5" width="1.7" height="1.4" fill="#222"/>
<path d="M369.0,106.4 L353.7,106.4 L358.0,107.9" stroke="#222" stroke-width="1.3" fill="none" stroke-linejoin="round"/>
<text transform="translate(368.592,140.300) rotate(-90) scale(0.06475,0.10423)" font-size="200" font-weight="normal" fill="#222"  stroke="#222" stroke-width="0.45" vector-effect="non-scaling-stroke" stroke-linejoin="round">2.8</text>
<text transform="translate(368.600,168.600) rotate(-90) scale(0.06847,0.10580)" font-size="200" font-weight="normal" fill="#222"  stroke="#222" stroke-width="0.45" vector-effect="non-scaling-stroke" stroke-linejoin="round">4</text>
<text transform="translate(368.592,196.700) rotate(-90) scale(0.06871,0.10423)" font-size="200" font-weight="normal" fill="#222"  stroke="#222" stroke-width="0.45" vector-effect="non-scaling-stroke" stroke-linejoin="round">5.6</text>
<text transform="translate(368.982,213.400) rotate(-90) scale(0.05856,0.10915)" font-size="200" font-weight="normal" fill="#222"  stroke="#222" stroke-width="0.45" vector-effect="non-scaling-stroke" stroke-linejoin="round">8</text>
<line x1="353.90" y1="222.40" x2="368.50" y2="222.40" stroke="#111" stroke-width="3.1" stroke-linecap="round"/>
<text transform="translate(368.587,237.000) rotate(-90) scale(0.06757,0.10634)" font-size="200" font-weight="normal" fill="#222"  stroke="#222" stroke-width="0.45" vector-effect="non-scaling-stroke" stroke-linejoin="round">6</text>
<path d="M369.0,240.4 L354.0,240.4 L358.0,244.20000000000002" stroke="#222" stroke-width="1.5" fill="none" stroke-linejoin="round"/>
<line x1="521.00" y1="136.20" x2="705.60" y2="136.20" stroke="#1a1a1a" stroke-width="1.8" stroke-linecap="butt"/>
<line x1="521.00" y1="332.80" x2="705.60" y2="332.80" stroke="#1a1a1a" stroke-width="1.8" stroke-linecap="butt"/>
<line x1="546.40" y1="145.60" x2="666.90" y2="145.60" stroke="#1a1a1a" stroke-width="1.8" stroke-linecap="butt"/>
<line x1="546.40" y1="323.40" x2="666.90" y2="323.40" stroke="#1a1a1a" stroke-width="1.8" stroke-linecap="butt"/>
<line x1="660.10" y1="145.60" x2="660.10" y2="323.40" stroke="#1a1a1a" stroke-width="1.8" stroke-linecap="butt"/>
<polygon points="660.10,145.60 658.10,155.80 662.10,155.80" fill="#111"/>
<polygon points="660.10,323.40 658.10,313.20 662.10,313.20" fill="#111"/>
<line x1="698.30" y1="136.20" x2="698.30" y2="332.80" stroke="#1a1a1a" stroke-width="1.8" stroke-linecap="butt"/>
<polygon points="698.30,136.20 696.30,146.40 700.30,146.40" fill="#111"/>
<polygon points="698.30,332.80 696.30,322.60 700.30,322.60" fill="#111"/>
<line x1="619.40" y1="172.00" x2="619.40" y2="296.00" stroke="#1a1a1a" stroke-width="1.8" stroke-linecap="butt"/>
<line x1="619.40" y1="177.80" x2="631.00" y2="169.30" stroke="#1a1a1a" stroke-width="1.5" stroke-linecap="butt"/>
<line x1="619.40" y1="185.63" x2="631.00" y2="177.13" stroke="#1a1a1a" stroke-width="1.5" stroke-linecap="butt"/>
<line x1="619.40" y1="193.46" x2="631.00" y2="184.96" stroke="#1a1a1a" stroke-width="1.5" stroke-linecap="butt"/>
<line x1="619.40" y1="201.29" x2="631.00" y2="192.79" stroke="#1a1a1a" stroke-width="1.5" stroke-linecap="butt"/>
<line x1="619.40" y1="209.12" x2="631.00" y2="200.62" stroke="#1a1a1a" stroke-width="1.5" stroke-linecap="butt"/>
<line x1="619.40" y1="216.95" x2="631.00" y2="208.45" stroke="#1a1a1a" stroke-width="1.5" stroke-linecap="butt"/>
<line x1="619.40" y1="224.78" x2="631.00" y2="216.28" stroke="#1a1a1a" stroke-width="1.5" stroke-linecap="butt"/>
<line x1="619.40" y1="232.61" x2="631.00" y2="224.11" stroke="#1a1a1a" stroke-width="1.5" stroke-linecap="butt"/>
<line x1="619.40" y1="240.44" x2="631.00" y2="231.94" stroke="#1a1a1a" stroke-width="1.5" stroke-linecap="butt"/>
<line x1="619.40" y1="248.27" x2="631.00" y2="239.77" stroke="#1a1a1a" stroke-width="1.5" stroke-linecap="butt"/>
<line x1="619.40" y1="256.10" x2="631.00" y2="247.60" stroke="#1a1a1a" stroke-width="1.5" stroke-linecap="butt"/>
<line x1="619.40" y1="263.93" x2="631.00" y2="255.43" stroke="#1a1a1a" stroke-width="1.5" stroke-linecap="butt"/>
<line x1="619.40" y1="271.76" x2="631.00" y2="263.26" stroke="#1a1a1a" stroke-width="1.5" stroke-linecap="butt"/>
<line x1="619.40" y1="279.59" x2="631.00" y2="271.09" stroke="#1a1a1a" stroke-width="1.5" stroke-linecap="butt"/>
<line x1="619.40" y1="287.42" x2="631.00" y2="278.92" stroke="#1a1a1a" stroke-width="1.5" stroke-linecap="butt"/>
<line x1="619.40" y1="295.25" x2="631.00" y2="286.75" stroke="#1a1a1a" stroke-width="1.5" stroke-linecap="butt"/>
<line x1="619.40" y1="302.00" x2="619.40" y2="464.50" stroke="#1a1a1a" stroke-width="1.8" stroke-linecap="butt"/>
<line x1="523.00" y1="272.90" x2="619.40" y2="272.90" stroke="#1a1a1a" stroke-width="1.8" stroke-linecap="butt"/>
<line x1="522.60" y1="264.00" x2="522.60" y2="279.50" stroke="#1a1a1a" stroke-width="1.8" stroke-linecap="butt"/>
<polygon points="523.00,272.90 533.20,270.90 533.20,274.90" fill="#111"/>
<polygon points="619.40,272.90 609.20,270.90 609.20,274.90" fill="#111"/>
<line x1="484.40" y1="376.50" x2="484.40" y2="464.50" stroke="#1a1a1a" stroke-width="1.8" stroke-linecap="butt"/>
<line x1="515.40" y1="338.40" x2="515.40" y2="419.50" stroke="#1a1a1a" stroke-width="1.8" stroke-linecap="butt"/>
<line x1="541.90" y1="327.40" x2="541.90" y2="419.50" stroke="#1a1a1a" stroke-width="1.8" stroke-linecap="butt"/>
<line x1="484.40" y1="412.50" x2="608.00" y2="412.50" stroke="#1a1a1a" stroke-width="1.8" stroke-linecap="butt"/>
<polygon points="484.40,412.50 494.60,410.50 494.60,414.50" fill="#111"/>
<polygon points="515.40,412.50 505.20,410.50 505.20,414.50" fill="#111"/>
<polygon points="541.90,412.50 552.10,410.50 552.10,414.50" fill="#111"/>
<line x1="122.90" y1="363.80" x2="122.90" y2="464.50" stroke="#1a1a1a" stroke-width="1.8" stroke-linecap="butt"/>
<line x1="122.90" y1="458.00" x2="619.40" y2="458.00" stroke="#1a1a1a" stroke-width="1.8" stroke-linecap="butt"/>
<polygon points="122.90,458.00 133.10,456.00 133.10,460.00" fill="#111"/>
<polygon points="484.40,458.00 474.20,456.00 474.20,460.00" fill="#111"/>
<polygon points="484.40,458.00 494.60,456.00 494.60,460.00" fill="#111"/>
<polygon points="619.40,458.00 609.20,456.00 609.20,460.00" fill="#111"/>
<text transform="translate(280.100,456.452) scale(0.07663,0.07394)" font-size="200" font-weight="normal" fill="#111"  stroke="#111" stroke-width="0.45" vector-effect="non-scaling-stroke" stroke-linejoin="round">46.814</text>
<text transform="translate(527.700,456.452) scale(0.07794,0.07394)" font-size="200" font-weight="normal" fill="#111"  stroke="#111" stroke-width="0.45" vector-effect="non-scaling-stroke" stroke-linejoin="round">17.526</text>
<text transform="translate(547.300,271.262) scale(0.07859,0.06901)" font-size="200" font-weight="normal" fill="#111"  stroke="#111" stroke-width="0.45" vector-effect="non-scaling-stroke" stroke-linejoin="round">12.496</text>
<text transform="translate(496.600,410.500) scale(0.06577,0.06594)" font-size="200" font-weight="normal" fill="#111"  stroke="#111" stroke-width="0.45" vector-effect="non-scaling-stroke" stroke-linejoin="round">4</text>
<text transform="translate(568.400,410.761) scale(0.08509,0.06972)" font-size="200" font-weight="normal" fill="#111"  stroke="#111" stroke-width="0.45" vector-effect="non-scaling-stroke" stroke-linejoin="round">3.46</text>
<path d="M567.4,400.3 Q559.6,405.8 567.4,411.3" stroke="#111" stroke-width="1.4" fill="none" stroke-linejoin="miter"/>
<path d="M602.5,400.3 Q610.2,405.8 602.5,411.3" stroke="#111" stroke-width="1.4" fill="none" stroke-linejoin="miter"/>
<text transform="translate(83.149,288.900) rotate(-90) scale(0.07634,0.07535)" font-size="200" font-weight="normal" fill="#111"  stroke="#111" stroke-width="0.6" vector-effect="non-scaling-stroke" stroke-linejoin="round">M30.5x0.5−6H</text>
<text transform="translate(51.508,247.200) rotate(-90) scale(0.07449,0.07292)" font-size="200" font-weight="normal" fill="#111"  stroke="#111" stroke-width="0.6" vector-effect="non-scaling-stroke" stroke-linejoin="round">ø40</text>
<text transform="translate(658.233,248.000) rotate(-90) scale(0.08116,0.06667)" font-size="200" font-weight="normal" fill="#111"  stroke="#111" stroke-width="0.6" vector-effect="non-scaling-stroke" stroke-linejoin="round">ø23</text>
<text transform="translate(697.361,264.400) rotate(-90) scale(0.07915,0.06972)" font-size="200" font-weight="normal" fill="#111"  stroke="#111" stroke-width="0.6" vector-effect="non-scaling-stroke" stroke-linejoin="round">1′−32UN</text>
</svg>
</body></html>
